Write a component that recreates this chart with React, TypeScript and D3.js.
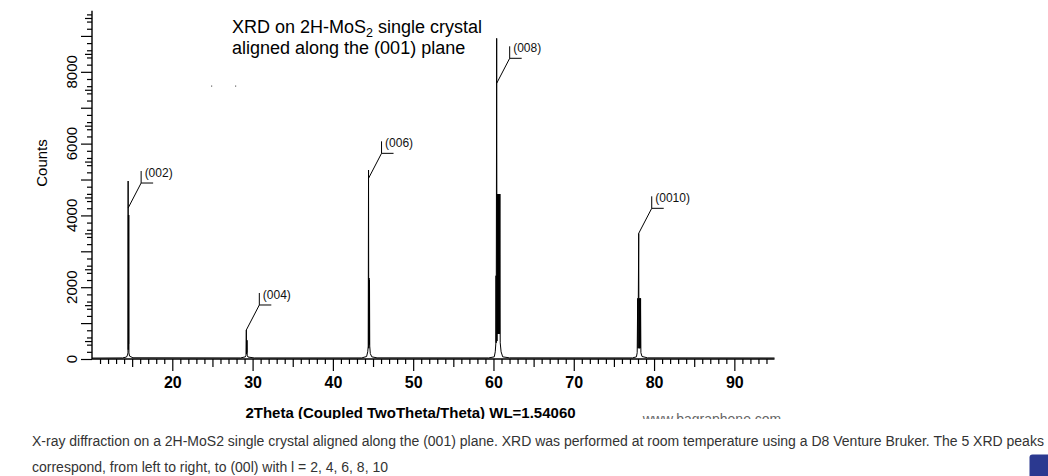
import * as d3 from "d3";
import { useEffect, useRef } from "react";

type Pt = [number, number]; // [2theta (deg), counts]

// scan (baseline ~30 counts between peaks)
const scan002: Pt[] = [
  [10.0, 26], [13.8, 30], [14.30, 55], [14.42, 110], [14.48, 170],
  [14.50, 4958], [14.52, 260], [14.54, 4011], [14.56, 420], [14.58, 4011],
  [14.60, 170], [14.68, 80], [15.1, 34],
];
const scan004: Pt[] = [
  [28.5, 30], [29.10, 60], [29.18, 105], [29.22, 808], [29.24, 140],
  [29.26, 530], [29.28, 180], [29.30, 520], [29.33, 105], [29.42, 55], [30.2, 30],
];
const scan006: Pt[] = [
  [43.6, 30], [44.20, 70], [44.34, 200], [44.40, 360], [44.44, 5265],
  [44.47, 300], [44.50, 2256], [44.53, 400], [44.56, 2200], [44.59, 360],
  [44.66, 150], [44.85, 60], [45.5, 32],
];
const scan008: Pt[] = [
  [59.4, 30], [60.10, 60], [60.22, 200], [60.30, 450], [60.32, 2320],
  [60.34, 450], [60.40, 8933], [60.44, 500], [60.48, 4596], [60.52, 700],
  [60.56, 4596], [60.60, 700], [60.64, 4596], [60.68, 700], [60.72, 4596],
  [60.76, 700], [60.80, 4596], [60.84, 450], [60.95, 200], [61.15, 60], [62.0, 32],
];
const scan0010: Pt[] = [
  [77.3, 30], [77.80, 60], [77.90, 175], [77.96, 1690], [78.00, 300],
  [78.04, 1690], [78.09, 3501], [78.12, 300], [78.16, 1690], [78.20, 300],
  [78.24, 1690], [78.28, 300], [78.32, 1690], [78.36, 175], [78.50, 70],
  [79.2, 32], [95.0, 28],
];

const hklLabels = ["(002)", "(004)", "(006)", "(008)", "(0010)"];
const hklTwoTheta = [14.50, 29.22, 44.44, 60.40, 78.09];
const hklCounts = [4206, 808, 5033, 7680, 3501];

const xTickLabels = [20, 30, 40, 50, 60, 70, 80, 90];
const yTickLabels = [0, 2000, 4000, 6000, 8000];

const titleLine2 = "aligned along the (001) plane";
const xTitle = "2Theta (Coupled TwoTheta/Theta) WL=1.54060";
const yTitle = "Counts";
const watermark = "www.bagraphene.com";
const caption1 =
  "X-ray diffraction on a 2H-MoS2 single crystal aligned along the (001) plane. XRD was performed at room temperature using a D8 Venture Bruker. The 5 XRD peaks";
const caption2 = "correspond, from left to right, to (00l) with l = 2, 4, 6, 8, 10";

const FONT = "'Liberation Sans', Arial, sans-serif";

export default function App() {
  const ref = useRef<SVGSVGElement | null>(null);

  useEffect(() => {
    const el = ref.current;
    if (!el) return;
    const svg = d3.select(el);
    svg.selectAll("*").remove();

    const W = 1048;
    const H = 476;
    svg.attr("viewBox", `0 0 ${W} ${H}`).attr("font-family", FONT);

    const x = d3.scaleLinear().domain([10, 95]).range([92, 774.5]);
    const y = d3.scaleLinear().domain([0, 9700]).range([359, 10.8]);

    svg
      .append("defs")
      .append("clipPath")
      .attr("id", "plotClip")
      .append("rect")
      .attr("x", 0)
      .attr("y", 0)
      .attr("width", W)
      .attr("height", 419);

    const root = svg.append("g");

    // x axis: 1 deg minor, 5 deg medium, 10 deg labelled
    const xMinor = d3.range(11, 95).filter((v) => v % 5 !== 0);
    const xMid = d3.range(15, 95, 10);
    const styleAxis = (ga: d3.Selection<SVGGElement, unknown, null, undefined>) => {
      ga.attr("color", "#000");
      ga.select(".domain").remove();
      ga.selectAll(".tick line").attr("stroke-width", 1.2);
    };
    const xg = root.append("g").attr("transform", `translate(0,${y(0)})`);
    xg.append("g")
      .call(d3.axisBottom(x).tickValues(xMinor).tickSize(5).tickSizeOuter(0).tickFormat(() => ""))
      .call(styleAxis);
    xg.append("g")
      .call(d3.axisBottom(x).tickValues(xMid).tickSize(8).tickSizeOuter(0).tickFormat(() => ""))
      .call(styleAxis);
    xg.append("g")
      .call(
        d3
          .axisBottom(x)
          .tickValues(xTickLabels)
          .tickSize(12)
          .tickSizeOuter(0)
          .tickPadding(6)
          .tickFormat(d3.format("d") as (v: d3.NumberValue) => string),
      )
      .call(styleAxis)
      .call((ga) =>
        ga
          .selectAll(".tick text")
          .attr("font-family", FONT)
          .attr("font-size", 16)
          .attr("font-weight", 700)
          .attr("fill", "#000"),
      );
    xg.append("line")
      .attr("x1", x(10))
      .attr("x2", x(95))
      .attr("stroke", "#000")
      .attr("stroke-width", 1.4);

    // y axis: 200 minor, 500 medium, 1000 long
    const yMinor = d3.range(200, 9700, 200).filter((v) => v % 1000 !== 0);
    const yMid = d3.range(500, 9700, 1000);
    const yMajor = d3.range(0, 9700, 1000);
    const yg = root.append("g").attr("transform", `translate(${x(10)},0)`);
    yg.append("g")
      .call(d3.axisLeft(y).tickValues(yMinor).tickSize(5).tickSizeOuter(0).tickFormat(() => ""))
      .call(styleAxis);
    yg.append("g")
      .call(d3.axisLeft(y).tickValues(yMid).tickSize(7).tickSizeOuter(0).tickFormat(() => ""))
      .call(styleAxis);
    yg.append("g")
      .call(d3.axisLeft(y).tickValues(yMajor).tickSize(11).tickSizeOuter(0).tickFormat(() => ""))
      .call(styleAxis);
    yg.append("line")
      .attr("y1", y(0))
      .attr("y2", y(9700))
      .attr("stroke", "#000")
      .attr("stroke-width", 1.4);

    root
      .append("g")
      .selectAll("text")
      .data(yTickLabels)
      .join("text")
      .attr("transform", (d) => `translate(77,${y(d)}) rotate(-90)`)
      .attr("text-anchor", "middle")
      .attr("font-size", 15)
      .attr("fill", "#000")
      .text((d) => String(d));

    root
      .append("text")
      .attr("transform", `translate(47,163) rotate(-90)`)
      .attr("text-anchor", "middle")
      .attr("font-size", 15)
      .attr("fill", "#000")
      .text(yTitle);

    // scan
    const scan = [...scan002, ...scan004, ...scan006, ...scan008, ...scan0010];
    const line = d3
      .line<Pt>()
      .x((d) => x(d[0]))
      .y((d) => y(d[1]));
    root
      .append("path")
      .datum(scan)
      .attr("fill", "none")
      .attr("stroke", "#000")
      .attr("stroke-width", 1)
      .attr("d", line);

    // hkl leaders
    const lead = root.append("g");
    hklLabels.forEach((lab, i) => {
      const px = x(hklTwoTheta[i]);
      const py = y(hklCounts[i]);
      const cx = px + 13;
      const cy = py - 25;
      lead
        .append("path")
        .attr("d", `M${px},${py}L${cx},${cy}M${cx},${cy - 12}L${cx},${cy}L${cx + 12},${cy}`)
        .attr("fill", "none")
        .attr("stroke", "#000")
        .attr("stroke-width", 1);
      lead
        .append("text")
        .attr("x", cx + 3.5)
        .attr("y", cy - 6)
        .attr("font-size", 12)
        .attr("fill", "#111")
        .text(lab);
    });

    // title
    const title = root.append("g").attr("font-size", 18).attr("fill", "#000");
    const t1 = title.append("text").attr("x", 232).attr("y", 32.5);
    t1.append("tspan").text("XRD on 2H-MoS");
    t1.append("tspan").attr("font-size", 12.5).attr("dy", 4).text("2");
    t1.append("tspan").attr("dy", -4).text(" single crystal");
    title.append("text").attr("x", 232).attr("y", 53.5).text(titleLine2);

    // specks left in the original image
    root
      .append("g")
      .selectAll("rect")
      .data([211, 235])
      .join("rect")
      .attr("x", (d) => d)
      .attr("y", 85.5)
      .attr("width", 1.2)
      .attr("height", 1.2)
      .attr("fill", "#666");

    // axis title + watermark, cut off at the image edge
    const clipped = root.append("g").attr("clip-path", "url(#plotClip)");
    clipped
      .append("text")
      .attr("x", 410.5)
      .attr("y", 418)
      .attr("text-anchor", "middle")
      .attr("font-size", 15)
      .attr("font-weight", 700)
      .attr("fill", "#000")
      .text(xTitle);
    clipped
      .append("text")
      .attr("x", 712)
      .attr("y", 424)
      .attr("text-anchor", "middle")
      .attr("font-size", 14)
      .attr("fill", "#666")
      .text(watermark);

    // caption below the picture
    const cap = svg.append("g").attr("font-size", 14).attr("fill", "#333");
    cap.append("text").attr("x", 32).attr("y", 446).text(caption1);
    cap.append("text").attr("x", 32).attr("y", 472).text(caption2);

    svg
      .append("rect")
      .attr("x", 1029.5)
      .attr("y", 454.5)
      .attr("width", 30)
      .attr("height", 30)
      .attr("rx", 3)
      .attr("fill", "#2b3990");
  }, []);

  return (
    <svg
      ref={ref}
      width={1048}
      height={476}
      style={{ position: "absolute", left: 0, top: 0, background: "#fff" }}
    />
  );
}
